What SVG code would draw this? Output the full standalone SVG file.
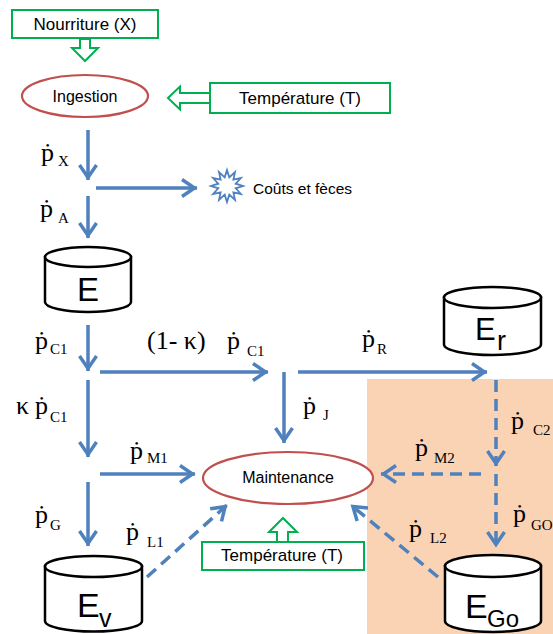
<svg xmlns="http://www.w3.org/2000/svg" width="553" height="634" viewBox="0 0 553 634">
<style>
.flow{fill:none;stroke:#4F81BD;stroke-width:3.5;marker-end:url(#ah)}
.dash{stroke-dasharray:12 7}
.box{fill:#fff;stroke:#00B050;stroke-width:2}
.blk{fill:#fff;stroke:#00B050;stroke-width:2;stroke-linejoin:miter}
.ell{fill:#fff;stroke:#C0504D;stroke-width:2.2}
.cyl{fill:#fff;stroke:#000;stroke-width:2.5}
.sans{font-family:"Liberation Sans",Arial,sans-serif;fill:#000}
.ser{font-family:"Liberation Serif","Times New Roman",serif;fill:#000;font-size:26px}
.sub{font-size:15px}
</style>
<defs>
<marker id="ah" markerUnits="userSpaceOnUse" markerWidth="40" markerHeight="40" viewBox="-20 -20 40 40" refX="0" refY="0" orient="auto" overflow="visible">
<path d="M-15,-8.5 L-2.5,0 L-15,8.5" fill="none" stroke="#4F81BD" stroke-width="3.5" stroke-dasharray="none"/>
</marker>
</defs>
<rect id="zone" x="367" y="379" width="186" height="255" fill="#FAD3B4"/>

<g id="connectors">
<line class="flow" x1="88" y1="130" x2="88" y2="180"/>
<line class="flow" x1="96" y1="188" x2="197" y2="188"/>
<line class="flow" x1="88" y1="196" x2="88" y2="238"/>
<line class="flow" x1="88" y1="325" x2="88" y2="371"/>
<line class="flow" x1="100" y1="372" x2="268" y2="372"/>
<line class="flow" x1="298" y1="372" x2="487" y2="372"/>
<line class="flow" x1="284" y1="372" x2="284" y2="443"/>
<line class="flow" x1="88" y1="380" x2="88" y2="457"/>
<line class="flow" x1="100" y1="474" x2="195" y2="474"/>
<line class="flow" x1="88" y1="482" x2="88" y2="546"/>
<line class="flow dash" x1="147" y1="577" x2="227" y2="505"/>
<line class="flow dash" x1="496" y1="380" x2="496" y2="466"/>
<line class="flow dash" x1="481" y1="474" x2="381" y2="474"/>
<line class="flow dash" x1="496" y1="474" x2="496" y2="547"/>
<line class="flow dash" x1="438" y1="577" x2="351" y2="505"/>
<polygon class="blk" points="80,39 90,39 90,48 98,48 85,61 72,48 80,48"/>
<polygon class="blk" points="168,98 180,86.5 180,93 210,93 210,103 180,103 180,109.5"/>
<polygon class="blk" points="283,518 297,532 288,532 288,542 277,542 277,532 269,532"/>
</g>

<g id="nourriture">
<rect class="box" x="12" y="10" width="146" height="28"/>
<text class="sans" x="85" y="30" font-size="17" text-anchor="middle">Nourriture (X)</text>
</g>
<g id="ingestion">
<ellipse class="ell" cx="85" cy="96" rx="63" ry="21"/>
<text class="sans" x="85" y="102" font-size="16" text-anchor="middle">Ingestion</text>
</g>
<g id="temperature-top">
<rect class="box" x="210" y="83" width="180" height="30"/>
<text class="sans" x="300" y="104" font-size="17" text-anchor="middle">Température (T)</text>
</g>
<g id="couts">
<polygon points="227,170 229.3,177.3 235,172.1 233.4,179.6 240.9,178 235.7,183.7 243,186 235.7,188.3 240.9,194 233.4,192.4 235,199.9 229.3,194.7 227,202 224.7,194.7 219,199.9 220.6,192.4 213.1,194 218.3,188.3 211,186 218.3,183.7 213.1,178 220.6,179.6 219,172.1 224.7,177.3" fill="#fff" stroke="#4F81BD" stroke-width="1.8" stroke-linejoin="miter"/>
<text class="sans" x="253" y="194" font-size="15.5">Coûts et fèces</text>
</g>
<g id="E">
<path class="cyl" d="M45,257 V302 A43,10 0 0 0 131,302 V257 Z"/>
<ellipse class="cyl" cx="88" cy="257" rx="43" ry="10"/>
<text class="sans" x="88" y="301" font-size="33" text-anchor="middle">E</text>
</g>
<g id="Er">
<path class="cyl" d="M444,297.5 V344.5 A48.5,10.5 0 0 0 541,344.5 V297.5 Z"/>
<ellipse class="cyl" cx="492.5" cy="297.5" rx="48.5" ry="10.5"/>
<text class="sans" x="475" y="340" font-size="31">E<tspan x="497" y="350" font-size="27">r</tspan></text>
</g>
<g id="maintenance">
<ellipse class="ell" cx="288" cy="478" rx="85" ry="26"/>
<text class="sans" x="288" y="483" font-size="16" text-anchor="middle">Maintenance</text>
</g>
<g id="temperature-bottom">
<rect class="box" x="202" y="542" width="162" height="28"/>
<text class="sans" x="282" y="561" font-size="17" text-anchor="middle">Température (T)</text>
</g>
<g id="Ev">
<path class="cyl" d="M45,566.5 V621 A48.5,10.5 0 0 0 142,621 V566.5 Z"/>
<ellipse class="cyl" cx="93.5" cy="566.5" rx="48.5" ry="10.5"/>
<text class="sans" x="77" y="617" font-size="34">E<tspan x="99" y="627" font-size="25">v</tspan></text>
</g>
<g id="EGo">
<path class="cyl" d="M445,566 V621 A48,11 0 0 0 541,621 V566 Z"/>
<ellipse class="cyl" cx="493" cy="566" rx="48" ry="11"/>
<text class="sans" x="465" y="618" font-size="34">E<tspan x="487" y="627" font-size="24">Go</tspan></text>
</g>

<g id="labels">
<text class="ser" x="41" y="161">ṗ<tspan class="sub" x="58" y="166">X</tspan></text>
<text class="ser" x="40" y="217">ṗ<tspan class="sub" x="58" y="223">A</tspan></text>
<text class="ser" x="35" y="349">ṗ<tspan class="sub" x="50" y="354">C1</tspan></text>
<text class="ser" x="147" y="349">(1- κ)<tspan x="227" y="349">ṗ</tspan><tspan class="sub" x="247" y="356">C1</tspan></text>
<text class="ser" x="362" y="347">ṗ<tspan class="sub" x="377" y="354">R</tspan></text>
<text class="ser" x="16" y="414">κ<tspan x="35" y="414">ṗ</tspan><tspan class="sub" x="50" y="422">C1</tspan></text>
<text class="ser" x="303" y="414">ṗ<tspan class="sub" x="323" y="420">J</tspan></text>
<text class="ser" x="511" y="429">ṗ<tspan class="sub" x="533" y="435">C2</tspan></text>
<text class="ser" x="130" y="459">ṗ<tspan class="sub" x="147" y="463">M1</tspan></text>
<text class="ser" x="415" y="456">ṗ<tspan class="sub" x="434" y="463">M2</tspan></text>
<text class="ser" x="35" y="523">ṗ<tspan class="sub" x="50" y="530">G</tspan></text>
<text class="ser" x="126" y="540">ṗ<tspan class="sub" x="147" y="547">L1</tspan></text>
<text class="ser" x="409" y="537">ṗ<tspan class="sub" x="430" y="543">L2</tspan></text>
<text class="ser" x="513" y="522">ṗ<tspan class="sub" x="531" y="530" font-size="14">GO</tspan></text>
</g>
</svg>
